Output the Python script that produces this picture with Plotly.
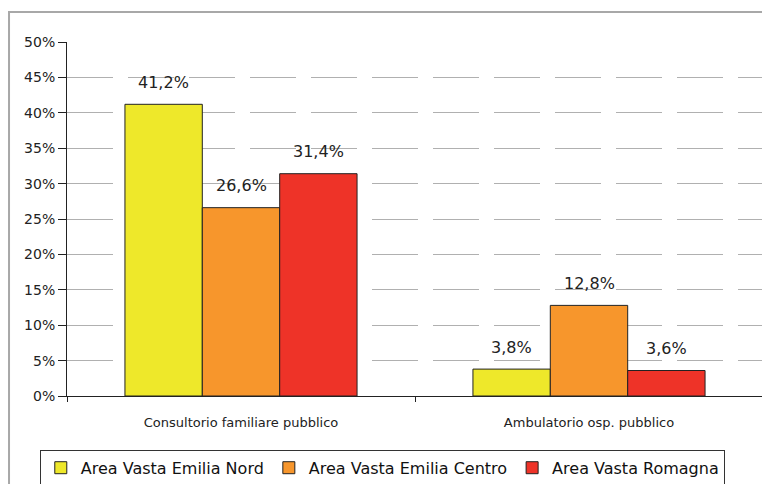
import plotly.graph_objects as go

categories = ["Consultorio familiare pubblico", "Ambulatorio osp. pubblico"]
series_names = ["Area Vasta Emilia Nord", "Area Vasta Emilia Centro", "Area Vasta Romagna"]
nord = [41.2, 3.8]
centro = [26.6, 12.8]
romagna = [31.4, 3.6]
colors = ["#EEE82A", "#F7962C", "#EE3328"]
y_ticks = [0, 5, 10, 15, 20, 25, 30, 35, 40, 45, 50]

series = [nord, centro, romagna]
bargap = 0.333
bw = (1 - bargap) / 3

fig = go.Figure()
for name, vals, col in zip(series_names, series, colors):
    fig.add_trace(go.Bar(
        x=categories, y=vals, name=name,
        marker=dict(color=col, line=dict(color="#222222", width=1)),
        hoverinfo="skip",
    ))

annotations = []
for j, vals in enumerate(series):
    for i, v in enumerate(vals):
        annotations.append(dict(
            x=i + (j - 1) * bw, y=v, xref="x", yref="y",
            text=f"{v:.1f}%".replace(".", ","), showarrow=False,
            yshift=22, font=dict(family="DejaVu Sans", size=16, color="#222222"),
        ))

# page body has an 8px margin, so the figure starts at (8, 8)
fig.update_layout(
    width=762, height=476,
    margin=dict(l=59, r=7, t=34, b=88, autoexpand=False),
    paper_bgcolor="white", plot_bgcolor="white",
    barmode="group", bargap=bargap, bargroupgap=0,
    annotations=annotations,
    showlegend=True,
    legend=dict(
        orientation="h", x=0.453, xanchor="center", y=-0.152, yanchor="top",
        bordercolor="#333333", borderwidth=1,
        font=dict(family="DejaVu Sans", size=16, color="#111111"),
        traceorder="normal", itemwidth=30,
    ),
    shapes=[dict(
        type="rect", xref="paper", yref="paper",
        x0=-0.0833, x1=1.03, y0=-0.3, y1=1.0847,
        line=dict(color="#A8A8A8", width=2), fillcolor="rgba(0,0,0,0)", layer="below",
    )],
)
fig.update_xaxes(
    type="category", range=[-0.5, 1.5],
    showline=True, linecolor="#222222", linewidth=1,
    ticks="outside", ticklen=5, tickcolor="#222222", tickson="boundaries",
    ticklabelstandoff=14,
    tickfont=dict(family="DejaVu Sans", size=13, color="#222222"),
    showgrid=False,
)
fig.update_yaxes(
    range=[0, 50], tickvals=y_ticks, ticktext=[f"{t}%" for t in y_ticks],
    showline=True, linecolor="#222222", linewidth=1,
    ticks="outside", ticklen=8, tickcolor="#222222",
    tickfont=dict(family="DejaVu Sans", size=14, color="#222222"),
    showgrid=True, gridcolor="#B0B0B0", gridwidth=1, griddash="46px,15px",
    zeroline=False,
)
fig.write_html("out.html")
